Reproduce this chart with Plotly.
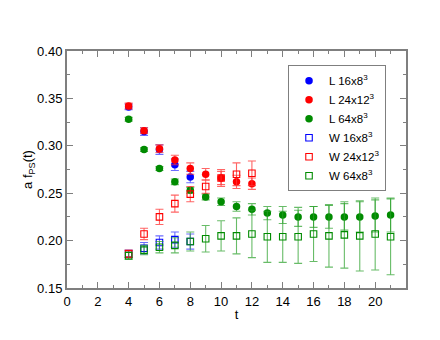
import plotly.graph_objects as go

# L (local) data
t_l16 = [4, 5, 6, 7, 8]
l16 = [0.341, 0.315, 0.296, 0.280, 0.267]
l16_err = [0.003, 0.004, 0.005, 0.006, 0.006]

t_l24 = [4, 5, 6, 7, 8, 9, 10, 11, 12]
l24 = [0.342, 0.316, 0.297, 0.285, 0.276, 0.270, 0.266, 0.262, 0.260]
l24_err = [0.003, 0.003, 0.004, 0.005, 0.006, 0.006, 0.007, 0.007, 0.006]

t_l64 = list(range(4, 22))
l64 = [0.328, 0.296, 0.276, 0.262, 0.253, 0.246, 0.241, 0.236, 0.233, 0.229,
       0.227, 0.225, 0.225, 0.225, 0.225, 0.225, 0.226, 0.227]
l64_err = [0.002, 0.002, 0.002, 0.003, 0.003, 0.003, 0.004, 0.005, 0.006, 0.007,
           0.009, 0.010, 0.011, 0.012, 0.014, 0.016, 0.017, 0.018]

# W (wall) data
t_w16 = [4, 5, 6, 7, 8]
w16 = [0.186, 0.192, 0.198, 0.201, 0.199]
w16_err = [0.004, 0.006, 0.007, 0.008, 0.008]

t_w24 = [4, 5, 6, 7, 8, 9, 10, 11, 12]
w24 = [0.186, 0.207, 0.225, 0.239, 0.249, 0.257, 0.266, 0.270, 0.271]
w24_err = [0.004, 0.006, 0.008, 0.009, 0.008, 0.007, 0.009, 0.012, 0.013]

t_w64 = list(range(4, 22))
w64 = [0.184, 0.190, 0.193, 0.195, 0.199, 0.202, 0.205, 0.205, 0.207, 0.204,
       0.204, 0.204, 0.207, 0.205, 0.206, 0.205, 0.207, 0.204]
w64_err = [0.004, 0.005, 0.006, 0.008, 0.010, 0.014, 0.016, 0.019, 0.025, 0.027,
           0.027, 0.028, 0.029, 0.033, 0.035, 0.037, 0.038, 0.040]

BLUE = "rgb(0,0,255)"
RED = "rgb(255,0,0)"
GREEN = "rgb(0,139,0)"
ERR = {BLUE: "rgba(60,60,255,0.75)", RED: "rgba(255,50,50,0.75)", GREEN: "rgba(40,160,40,0.7)"}

series = [
    ("L 16x8<sup>3</sup>", t_l16, l16, l16_err, BLUE, "circle"),
    ("L 24x12<sup>3</sup>", t_l24, l24, l24_err, RED, "circle"),
    ("L 64x8<sup>3</sup>", t_l64, l64, l64_err, GREEN, "circle"),
    ("W 16x8<sup>3</sup>", t_w16, w16, w16_err, BLUE, "square-open"),
    ("W 24x12<sup>3</sup>", t_w24, w24, w24_err, RED, "square-open"),
    ("W 64x8<sup>3</sup>", t_w64, w64, w64_err, GREEN, "square-open"),
]

fig = go.Figure()
for name, tt, yy, ee, col, sym in series:
    filled = sym == "circle"
    fig.add_trace(go.Scatter(
        x=tt, y=yy, name=name, mode="markers",
        marker=dict(symbol=sym, color=col, size=7.5 if filled else 6.5,
                    line=dict(width=1.1 if not filled else 0, color=col)),
        error_y=dict(type="data", array=ee, color=ERR[col], thickness=1.1, width=4),
    ))

axis_common = dict(
    showline=True, linecolor="#7f7f7f", linewidth=2, mirror="ticks",
    ticks="inside", tickcolor="#7f7f7f", ticklen=6, tickwidth=1,
    showgrid=False, zeroline=False,
    tickfont=dict(size=13, color="black"),
)

fig.update_xaxes(
    range=[0, 22], tickvals=list(range(0, 21, 2)),
    minor=dict(tickvals=list(range(1, 22, 2)), ticks="inside", ticklen=3, tickcolor="#7f7f7f"),
    title=dict(text="t", font=dict(size=13, color="black"), standoff=2),
    **axis_common,
)
fig.update_yaxes(
    range=[0.15, 0.40], tickvals=[0.15, 0.20, 0.25, 0.30, 0.35, 0.40], tickformat=".2f",
    minor=dict(tickvals=[0.175, 0.225, 0.275, 0.325, 0.375], ticks="inside", ticklen=3,
               tickcolor="#7f7f7f"),
    title=dict(text="a f<sub>PS</sub>(t)", font=dict(size=13, color="black"), standoff=1),
    **axis_common,
)

fig.update_layout(
    width=440, height=340,
    margin=dict(l=59, r=42, t=43, b=60),
    paper_bgcolor="white", plot_bgcolor="white",
    font=dict(family="Liberation Sans, Arial, sans-serif", color="black"),
    showlegend=True,
    legend=dict(
        x=0.652, y=0.94, xanchor="left", yanchor="top",
        bordercolor="#7f7f7f", borderwidth=1, bgcolor="white",
        font=dict(size=11.5), itemwidth=30, tracegroupgap=0,
    ),
)

fig.write_html("out.html")
